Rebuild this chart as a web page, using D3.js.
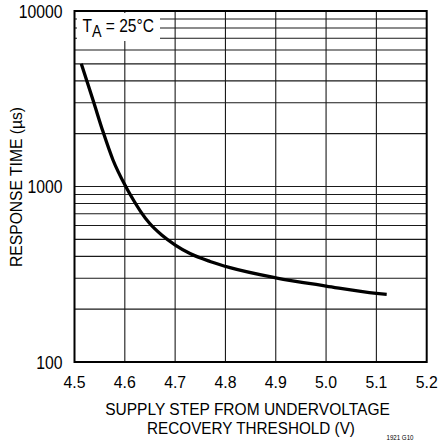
<!DOCTYPE html>
<html>
<head>
<meta charset="utf-8">
<script src="https://cdn.jsdelivr.net/npm/d3@7"></script>
<style>
  body { margin: 0; background: #fff; }
  text { font-family: "Liberation Sans", Arial, sans-serif; fill: #000; }
</style>
</head>
<body>
<script>
// curve: supply step (V) vs response time (us)
var stepV = [4.5135, 4.5254, 4.5374, 4.5566, 4.5765, 4.6018, 4.6183, 4.6322, 4.6487, 4.6733, 4.7003, 4.7296, 4.7693, 4.8091, 4.90, 5.00, 5.10, 5.1205];
var respUs = [5000, 3930, 3070, 2055, 1416, 1000, 827, 715, 619, 529, 464, 415, 374, 345, 302, 271, 246, 243];
var xTicks = [4.5, 4.6, 4.7, 4.8, 4.9, 5.0, 5.1, 5.2];
var yTicks = [100, 1000, 10000];
var yLabels = ["100", "1000", "10000"];

var w = 441, h = 442;
var svg = d3.select("body").append("svg")
  .attr("width", w)
  .attr("height", h);

var x = d3.scaleLinear().domain([4.5, 5.2]).range([74.5, 426.7]);
var y = d3.scaleLog().domain([100, 10000]).range([362, 11]);

// a text placed at (px,py), squeezed sideways to mimic the condensed face
function narrowText(px, py, str, size, anchor, squeeze, rot) {
  var t = svg.append("text")
    .attr("font-size", size)
    .attr("text-anchor", anchor)
    .text(str);
  var k = squeeze;
  if (squeeze > 2) k = squeeze / t.node().getComputedTextLength(); // target width given
  t.attr("transform", "translate(" + px + "," + py + ")" + (rot ? " rotate(" + rot + ")" : "") + " scale(" + k + ",1)");
  return t;
}

// grid
var grid = svg.append("g").attr("stroke", "#1a1a1a").attr("stroke-width", 1.1);
grid.selectAll(".vx").data(xTicks.slice(1, -1)).enter().append("line")
  .attr("x1", d => x(d)).attr("x2", d => x(d))
  .attr("y1", y(10000)).attr("y2", y(100));
var minor = [];
[100, 1000].forEach(function(dec) {
  for (var k = 1; k <= 9; k++) if (!(k == 1 && dec == 100)) minor.push(k * dec);
});
grid.selectAll(".hy").data(minor).enter().append("line")
  .attr("x1", x(4.5)).attr("x2", x(5.2))
  .attr("y1", d => y(d)).attr("y2", d => y(d));

// box for the temperature note, it hides the grid behind it
svg.append("rect")
  .attr("x", 77).attr("y", 13)
  .attr("width", 83).attr("height", 28)
  .attr("fill", "#fff");
var note = svg.append("text").attr("font-size", 18.5);
note.append("tspan").text("T");
note.append("tspan").attr("font-size", 17).attr("dy", 5).text("A");
note.append("tspan").attr("dy", -5).text(" = 25\u00B0C");
var nk = 71.5 / note.node().getComputedTextLength();
note.attr("transform", "translate(82.5,31.5) scale(" + nk + ",1)");

// frame
svg.append("rect")
  .attr("x", x(4.5)).attr("y", y(10000))
  .attr("width", x(5.2) - x(4.5)).attr("height", y(100) - y(10000))
  .attr("fill", "none").attr("stroke", "#000").attr("stroke-width", 2);

// curve
var line = d3.line()
  .x((d, i) => x(stepV[i]))
  .y(d => y(d))
  .curve(d3.curveMonotoneX);
svg.append("path")
  .datum(respUs)
  .attr("d", line)
  .attr("fill", "none")
  .attr("stroke", "#000")
  .attr("stroke-width", 3.3);

// tick labels
xTicks.forEach(function(v) {
  narrowText(x(v), 388, v.toFixed(1), 17, "middle", 0.93);
});
yTicks.forEach(function(v, i) {
  narrowText(62.5, y(v) + 6.5, yLabels[i], 17.5, "end", 0.9);
});

// axis titles
narrowText(247.5, 414.5, "SUPPLY STEP FROM UNDERVOLTAGE", 17, "middle", 285);
narrowText(251, 434, "RECOVERY THRESHOLD (V)", 17, "middle", 208);
narrowText(22, 187, "RESPONSE TIME (\u00B5s)", 16, "middle", 160, -90);
narrowText(400, 440, "1921 G10", 8, "middle", 27);
</script>
</body>
</html>
